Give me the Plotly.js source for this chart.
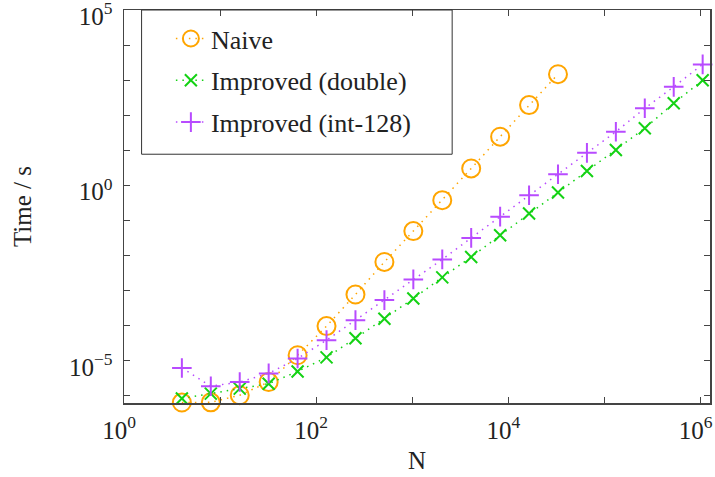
<!DOCTYPE html>
<html>
<head>
<meta charset="utf-8">
<script src="https://cdn.plot.ly/plotly-3.0.1.min.js"></script>
<style>html,body{margin:0;padding:0;background:#fff;}#chart{width:715px;height:477px;}</style>
</head>
<body>
<div id="chart"></div>
<script>
// Problem size N
const nNaive = [4, 8, 16, 32, 64, 128, 256, 512, 1024, 2048, 4096, 8192, 16384, 32768];
const nImproved = [4, 8, 16, 32, 64, 128, 256, 512, 1024, 2048, 4096, 8192, 16384, 32768, 65536, 131072, 262144, 524288, 1048576];
// Time in seconds
const timeNaive = [6.5e-7, 6.6e-7, 1.05e-6, 2.5e-6, 1.45e-5, 9.8e-5, 7.8e-4, 6.6e-3, 0.050, 0.38, 3.05, 24.5, 195, 1480];
const timeDouble = [8.5e-7, 1.17e-6, 1.62e-6, 2.24e-6, 5.0e-6, 1.26e-5, 4.4e-5, 1.58e-4, 6.0e-4, 2.4e-3, 9.1e-3, 0.038, 0.158, 0.63, 2.57, 10.2, 42.7, 219, 1000];
const timeInt128 = [6.3e-6, 1.9e-6, 2.5e-6, 4.4e-6, 1.17e-5, 3.9e-5, 1.45e-4, 5.4e-4, 2.1e-3, 7.8e-3, 0.032, 0.129, 0.525, 2.09, 8.5, 33.9, 158, 646, 2820];
const seriesNames = ['Naive', 'Improved (double)', 'Improved (int-128)'];
// Axis ticks (labelled) and unlabelled decade ticks
const xTickVals = [1, 100, 10000, 1000000];
const xTickText = ['10<sup>0</sup>', '10<sup>2</sup>', '10<sup>4</sup>', '10<sup>6</sup>'];
const xMinorVals = [10, 1000, 100000];
const yTickVals = [1e-5, 1, 1e5];
const yTickText = ['10<sup>\u22125</sup>', '10<sup>0</sup>', '10<sup>5</sup>'];
const yMinorVals = [1e-6, 1e-4, 1e-3, 1e-2, 1e-1, 10, 100, 1000, 1e4];

const FONT = 'Liberation Serif';
const ORANGE = '#FFA500', GREEN = '#14D214', PURPLE = '#B84BFF';
const DOTS = '1.5px,5px';

const traces = [
  {x: nNaive, y: timeNaive, name: seriesNames[0], legendgroup: 'a', type: 'scatter', mode: 'lines+markers', cliponaxis: false,
   line: {color: ORANGE, width: 1.5, dash: DOTS},
   marker: {symbol: 'circle-open', size: 18, color: ORANGE, line: {width: 2, color: ORANGE}}},
  {x: nImproved, y: timeDouble, name: seriesNames[1], legendgroup: 'b', type: 'scatter', mode: 'lines+markers', cliponaxis: false,
   line: {color: GREEN, width: 1.5, dash: DOTS},
   marker: {symbol: 'x-thin-open', size: 12, color: GREEN, line: {width: 2, color: GREEN}}},
  {x: nImproved, y: timeInt128, name: seriesNames[2], legendgroup: 'c', type: 'scatter', mode: 'lines+markers', cliponaxis: false,
   line: {color: PURPLE, width: 1.5, dash: DOTS},
   marker: {symbol: 'cross-thin-open', size: 14, color: PURPLE, line: {width: 2, color: PURPLE}}}
];

const axisCommon = {
  type: 'log', showgrid: false, zeroline: false,
  showline: true, linecolor: '#444', linewidth: 1.5, mirror: 'ticks',
  ticks: 'inside', ticklen: 6, tickwidth: 1, tickcolor: '#444',
  ticklabeloverflow: 'allow',
  tickmode: 'array', tickfont: {family: FONT, size: 25, color: '#222'}
};

const layout = {
  width: 715, height: 477,
  margin: {l: 124, r: 5, t: 10, b: 74},
  paper_bgcolor: '#fff', plot_bgcolor: '#fff',
  font: {family: FONT, color: '#222'},
  showlegend: true,
  legend: {x: 0.08, y: 0.987, xanchor: 'left', yanchor: 'top', bgcolor: 'rgba(0,0,0,0)', borderwidth: 0,
           tracegroupgap: 5, font: {family: FONT, size: 26, color: '#222'}},
  xaxis: Object.assign({}, axisCommon, {range: [0, 6.097], tickvals: xTickVals, ticktext: xTickText,
           minor: {tickmode: 'array', tickvals: xMinorVals, ticks: 'inside', ticklen: 6, tickwidth: 1, tickcolor: '#444', showgrid: false},
           ticklabelstandoff: 4, ticklabelshift: -5,
           title: {text: 'N', font: {family: FONT, size: 25, color: '#222'}, standoff: 9}}),
  yaxis: Object.assign({}, axisCommon, {range: [-6.2, 5], tickvals: yTickVals, ticktext: yTickText,
           minor: {tickmode: 'array', tickvals: yMinorVals, ticks: 'inside', ticklen: 6, tickwidth: 1, tickcolor: '#444', showgrid: false},
           ticklabelstandoff: 5, ticklabelshift: 6,
           title: {text: 'Time / s', font: {family: FONT, size: 25, color: '#222'}, standoff: 30}}),
  shapes: [{type: 'rect', xref: 'paper', yref: 'paper', x0: 0.030, x1: 0.560, y0: 0.633, y1: 1,
            line: {color: '#333', width: 1}, fillcolor: 'rgba(255,255,255,0)', layer: 'above'}]
};

Plotly.newPlot('chart', traces, layout, {displayModeBar: false, staticPlot: true});
</script>
</body>
</html>
